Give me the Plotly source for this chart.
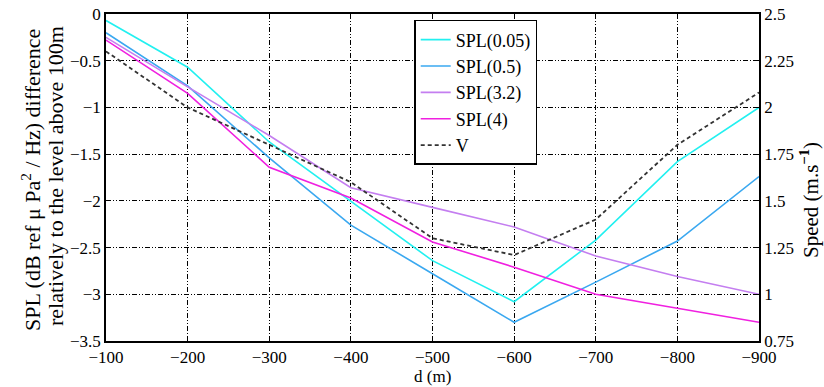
import plotly.graph_objects as go

depth = [-100, -200, -300, -400, -500, -600, -700, -800, -900]
spl_005 = [-0.07, -0.57, -1.37, -2.01, -2.64, -3.08, -2.42, -1.58, -1.0]
spl_05 = [-0.20, -0.77, -1.54, -2.26, -2.78, -3.30, -2.87, -2.43, -1.74]
spl_32 = [-0.25, -0.78, -1.30, -1.86, -2.07, -2.28, -2.59, -2.81, -3.00]
spl_4 = [-0.28, -0.85, -1.64, -1.97, -2.44, -2.71, -3.00, -3.15, -3.30]
speed = [2.30, 2.00, 1.80, 1.60, 1.30, 1.21, 1.40, 1.80, 2.08]

left_ticks = [0, -0.5, -1, -1.5, -2, -2.5, -3, -3.5]
right_ticks = [0.75, 1, 1.25, 1.5, 1.75, 2, 2.25, 2.5]
x_ticks = depth

x_title = "d (m)"
left_title_1 = "SPL (dB ref μ Pa<sup>2</sup> / Hz) difference"
left_title_2 = "relatively to the level above 100m"
right_title = "Speed (m.s<sup><b>−1</b></sup>)"

FONT = "Liberation Serif"
fig = go.Figure()
series = [
    ("SPL(0.05)", spl_005, "#22f0f0"),
    ("SPL(0.5)", spl_05, "#3aa8f0"),
    ("SPL(3.2)", spl_32, "#c47ef0"),
    ("SPL(4)", spl_4, "#f020e0"),
]
for name, vals, col in series:
    fig.add_trace(go.Scatter(x=depth, y=vals, name=name, mode="lines",
                             line=dict(color=col, width=1.6)))
fig.add_trace(go.Scatter(x=depth, y=speed, name="V", mode="lines", yaxis="y2",
                         line=dict(color="#333333", width=1.8, dash="4px,3px")))

grid = dict(showgrid=True, gridcolor="black", gridwidth=1, griddash="5px,2px,1px,2px,1px,2px")
fig.update_layout(
    width=824, height=387,
    margin=dict(l=106, r=65, t=14, b=46, autoexpand=False),
    paper_bgcolor="white", plot_bgcolor="white",
    font=dict(family=FONT, size=17, color="black"),
    xaxis=dict(range=[-100, -900], tickvals=x_ticks, ticks="inside", ticklen=5,
               tickcolor="black", showline=True, linecolor="black", linewidth=1.5,
               mirror="ticks", zeroline=False, automargin=False, **grid),
    yaxis=dict(range=[-3.5, 0], tickvals=left_ticks, ticks="inside", ticklen=5,
               tickcolor="black", showline=True, linecolor="black", linewidth=1.5,
               mirror=True, zeroline=False, automargin=False, **grid),
    yaxis2=dict(range=[0.75, 2.5], tickvals=right_ticks, overlaying="y", side="right",
                ticks="inside", ticklen=5, tickcolor="black", showgrid=False,
                zeroline=False, showline=True, linecolor="black", linewidth=1.5,
                automargin=False),
    legend=dict(x=0.472, y=0.982, xanchor="left", yanchor="top",
                bgcolor="white", bordercolor="black", borderwidth=1.5,
                font=dict(family=FONT, size=18), itemwidth=30, tracegroupgap=0),
    showlegend=True,
)

# axis titles placed as annotations (pixel positions relative to plot area)
W, H, L, T, B, R = 824, 387, 106, 14, 46, 65
pw, ph = W - L - R, H - T - B
def px(x):
    return (x - L) / pw
def py(y):
    return (H - B - y) / ph

fig.add_annotation(text=x_title, xref="paper", yref="paper", x=px(432), y=py(376),
                   showarrow=False, xanchor="center", yanchor="middle", font=dict(size=17))
fig.add_annotation(text=left_title_1, xref="paper", yref="paper", x=px(31), y=py(180),
                   showarrow=False, textangle=-90, xanchor="center", yanchor="middle",
                   font=dict(size=22))
fig.add_annotation(text=left_title_2, xref="paper", yref="paper", x=px(55), y=py(176),
                   showarrow=False, textangle=-90, xanchor="center", yanchor="middle",
                   font=dict(size=22))
fig.add_annotation(text=right_title, xref="paper", yref="paper", x=px(810), y=py(200),
                   showarrow=False, textangle=-90, xanchor="center", yanchor="middle",
                   font=dict(size=21))

fig.write_html("out.html", config={"displayModeBar": False},
               post_script="document.body.style.margin='0';")
